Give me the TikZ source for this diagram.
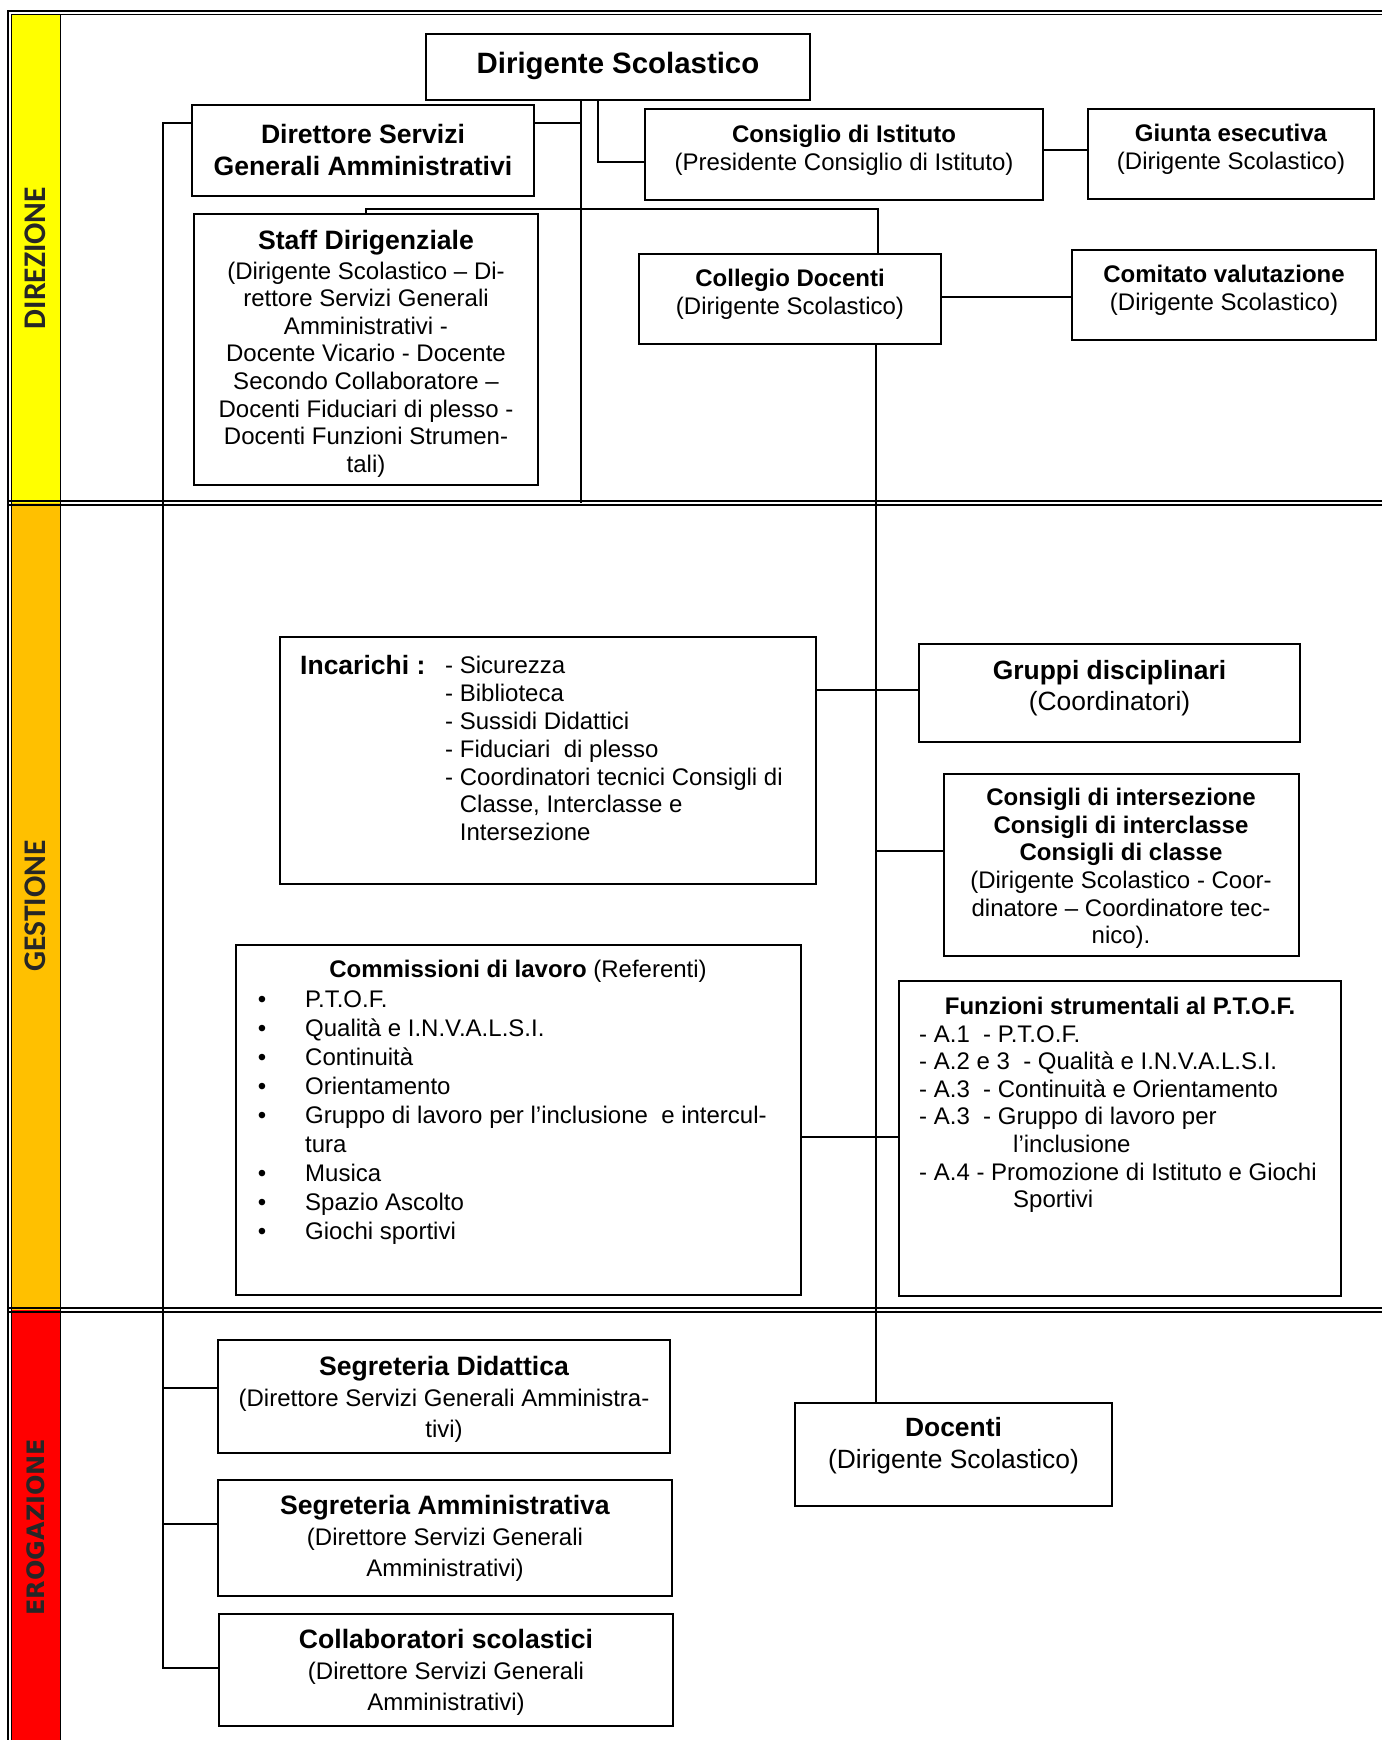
\documentclass[tikz,border=0pt]{standalone}
\usepackage{fontspec}
\setmainfont{Liberation Sans}
\newfontfamily\bandfont{Carlito}
\newfontfamily\widefont{DejaVu Sans}
\usetikzlibrary{calc}
\newcommand\fsz[2]{\fontsize{#1pt}{#2pt}\selectfont}
\newcommand\blt{\llap{\textbullet\hspace{39pt}}}
\definecolor{bandyellow}{HTML}{FFFF00}
\definecolor{bandorange}{HTML}{FFC000}
\definecolor{bandred}{HTML}{FF0000}
\definecolor{labelgray}{HTML}{262626}
\begin{document}
\begin{tikzpicture}[x=1pt,y=-1pt,
  box/.style={draw, line width=1.6pt, inner sep=0pt},
  conn/.style={line width=1.4pt},
  frameline/.style={line width=1.3pt},
  txt/.style={inner sep=0pt, align=center, font=\fsz{24}{27.6}},
  band/.style={rotate=90, inner sep=0pt, font=\bandfont\bfseries\fsz{31.5}{32}, text=labelgray}
]
\useasboundingbox (0,0) rectangle (1382,1740);

% bands
\fill[bandyellow] (11,14) rectangle (60,503);
\fill[bandorange] (11,503) rectangle (60,1310);
\fill[bandred] (11,1310) rectangle (60,1740);

% frame
\draw[line width=2pt] (8,1740) -- (8,11) -- (1382,11);
\draw[frameline] (11.5,1740) -- (11.5,14.5) -- (1382,14.5);
\draw[line width=1.8pt] (60.5,14.5) -- (60.5,1740);
\draw[frameline] (8,501) -- (1382,501);
\draw[frameline] (8,505) -- (1382,505);
\draw[frameline] (8,1308) -- (1382,1308);
\draw[frameline] (8,1312) -- (1382,1312);

% band labels
\node[band] (lab-dir) at (35.5,258) {DIREZIONE};
\node[band] (lab-ges) at (35.5,906) {GESTIONE};
\node[band, font=\widefont\bfseries\fsz{24}{26}] (lab-ero) at (35.5,1527) {EROGAZIONE};

% boxes
\node[box, minimum width=384pt, minimum height=66pt] (dir) at (618,67) {};
\node[box, minimum width=342pt, minimum height=91pt] (dsga) at (363,150.5) {};
\node[box, minimum width=398pt, minimum height=91pt] (cons) at (844,154.5) {};
\node[box, minimum width=286pt, minimum height=90pt] (giunta) at (1231,154) {};
\node[box, minimum width=344pt, minimum height=271pt] (staff) at (366,349.5) {};
\node[box, minimum width=302pt, minimum height=90pt] (coll) at (790,299) {};
\node[box, minimum width=304pt, minimum height=90pt] (comit) at (1224,295) {};
\node[box, minimum width=536pt, minimum height=247pt] (inc) at (548,760.5) {};
\node[box, minimum width=381pt, minimum height=98pt] (grup) at (1109.5,693) {};
\node[box, minimum width=355pt, minimum height=182pt] (consigli) at (1121.5,865) {};
\node[box, minimum width=565pt, minimum height=350pt] (comm) at (518.5,1120) {};
\node[box, minimum width=442pt, minimum height=315pt] (funz) at (1120,1138.5) {};
\node[box, minimum width=452pt, minimum height=113pt] (segdid) at (444,1396.5) {};
\node[box, minimum width=317pt, minimum height=103pt] (doc) at (953.5,1454.5) {};
\node[box, minimum width=454pt, minimum height=116pt] (segamm) at (445,1538) {};
\node[box, minimum width=454pt, minimum height=112pt] (collab) at (446,1670) {};

% junction coordinates
\coordinate (j1) at (581,123);
\coordinate (div1) at (581,503);
\coordinate (j2) at (598,162);
\coordinate (j3) at (1065,150);
\coordinate (j4) at (366,209);
\coordinate (j5) at (878,209);
\coordinate (j6) at (1000,297);
\coordinate (j7) at (876,344);
\coordinate (j8) at (876,690);
\coordinate (j9) at (876,851);
\coordinate (j10) at (876,1137);
\coordinate (k0) at (163,123);
\coordinate (k1) at (163,1388);
\coordinate (k2) at (163,1524);
\coordinate (k3) at (163,1668);

% connectors
\draw[conn] (dir.south -| j1) -- (j1) -- (div1);
\draw[conn] (dsga.east |- j1) -- (j1);
\draw[conn] (dir.south -| j2) -- (j2) -- (cons.west |- j2);
\draw[conn] (cons.east |- j3) -- (giunta.west |- j3);
\draw[conn] (staff.north -| j4) -- (j4) -- (j5) -- (coll.north -| j5);
\draw[conn] (coll.east |- j6) -- (comit.west |- j6);
\draw[conn] (coll.south -| j7) -- (doc.north -| j7);
\draw[conn] (inc.east |- j8) -- (grup.west |- j8);
\draw[conn] (j9) -- (consigli.west |- j9);
\draw[conn] (comm.east |- j10) -- (funz.west |- j10);
\draw[conn] (dsga.west |- k0) -- (k0) -- (k3) -- (collab.west |- k3);
\draw[conn] (k1) -- (segdid.west |- k1);
\draw[conn] (k2) -- (segamm.west |- k2);

% texts
\node[txt, font=\bfseries\fsz{29.4}{32}] (dir-t) at (618,66) {Dirigente Scolastico};
\node[txt, font=\bfseries\fsz{26.6}{32}] (dsga-t) at (363,150) {Direttore Servizi\\Generali Amministrativi};
\node[txt] (cons-t) at (844,150) {\textbf{Consiglio di Istituto}\\(Presidente Consiglio di Istituto)};
\node[txt] (giunta-t) at (1231,149) {\textbf{Giunta esecutiva}\\(Dirigente Scolastico)};
\node[txt] (staff-t) at (366,353.5) {{\fsz{26.6}{30}\bfseries Staff Dirigenziale}\\[2.4pt](Dirigente Scolastico – Di-\\rettore Servizi Generali\\Amministrativi -\\Docente Vicario - Docente\\Secondo Collaboratore –\\Docenti Fiduciari di plesso -\\Docenti Funzioni Strumen-\\tali)};
\node[txt] (coll-t) at (790,294.5) {\textbf{Collegio Docenti}\\(Dirigente Scolastico)};
\node[txt] (comit-t) at (1224,290) {\textbf{Comitato valutazione}\\(Dirigente Scolastico)};

\node[txt, anchor=west, font=\bfseries\fsz{26.5}{28}] (inc-h) at (300,665) {Incarichi :};
\node[txt, align=left, anchor=west, font=\fsz{24}{27.9}] (inc-l) at (445,748.6) {- Sicurezza\\- Biblioteca\\- Sussidi Didattici\\- Fiduciari\ \ di plesso\\- Coordinatori tecnici Consigli di\\\phantom{- }Classe, Interclasse e\\\phantom{- }Intersezione};

\node[txt, font=\fsz{26.4}{31}] (grup-t) at (1109.5,688) {\textbf{Gruppi disciplinari}\\(Coordinatori)};
\node[txt, font=\fsz{24}{27.7}] (consigli-t) at (1121,868.5) {\textbf{Consigli di intersezione}\\\textbf{Consigli di interclasse}\\\textbf{Consigli di classe}\\(Dirigente Scolastico - Coor-\\dinatore – Coordinatore tec-\\nico).};

\node[txt] (comm-h) at (518,971) {\textbf{Commissioni di lavoro} (Referenti)};
\node[txt, align=left, anchor=west, font=\fsz{24}{29}] (comm-l) at (305,1118) {\blt P.T.O.F.\\\blt Qualità e I.N.V.A.L.S.I.\\\blt Continuità\\\blt Orientamento\\\blt Gruppo di lavoro per l’inclusione\ \ e intercul-\\tura\\\blt Musica\\\blt Spazio Ascolto\\\blt Giochi sportivi};

\node[txt] (funz-h) at (1120,1006) {\textbf{Funzioni strumentali al P.T.O.F.}};
\node[txt, align=left, anchor=west, font=\fsz{24}{27.6}] (funz-l) at (919,1119) {- A.1\ \ - P.T.O.F.\\- A.2 e 3\ \ - Qualità e I.N.V.A.L.S.I.\\- A.3\ \ - Continuità e Orientamento\\- A.3\ \ - Gruppo di lavoro per\\\hspace*{94pt}l’inclusione\\- A.4 - Promozione di Istituto e Giochi\\\hspace*{94pt}Sportivi};

\node[txt, font=\fsz{24}{31}] (segdid-t) at (444,1399) {{\fsz{26.6}{31}\bfseries Segreteria Didattica}\\(Direttore Servizi Generali Amministra-\\tivi)};
\node[txt, font=\fsz{24}{31}] (segamm-t) at (445,1538) {{\fsz{26.6}{31}\bfseries Segreteria Amministrativa}\\(Direttore Servizi Generali\\Amministrativi)};
\node[txt, font=\fsz{24}{31}] (collab-t) at (446,1672) {{\fsz{26.6}{31}\bfseries Collaboratori scolastici}\\(Direttore Servizi Generali\\Amministrativi)};
\node[txt, font=\fsz{26.4}{32}] (doc-t) at (953.5,1446) {\textbf{Docenti}\\(Dirigente Scolastico)};
\end{tikzpicture}
\end{document}
